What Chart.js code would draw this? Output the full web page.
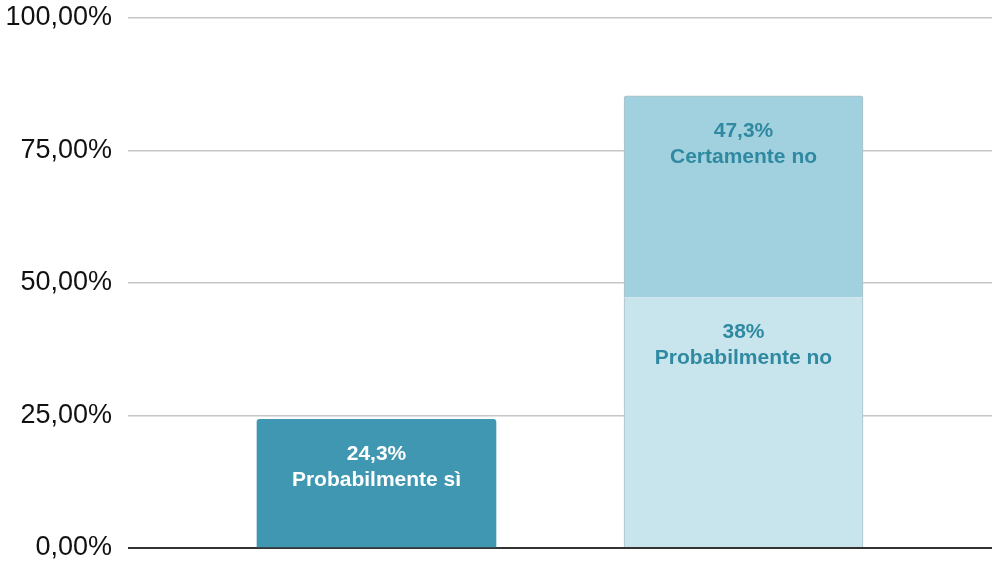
<!DOCTYPE html>
<html>
<head>
<meta charset="utf-8">
<script src="https://cdn.jsdelivr.net/npm/chart.js@4"></script>
<style>
  html, body { margin: 0; padding: 0; background: #fff; }
  #wrap { width: 993px; height: 563px; }
</style>
</head>
<body>
<div id="wrap"><canvas id="chart"></canvas></div>
<script>
// bar positions on the x axis (1 = first bar, 2 = second bar)
const positions = [1, 2];
// segment heights as drawn in the picture (percent)
const siValues = [24.3, null];
const probNoValues = [null, 47.3];
const certNoValues = [null, 38];
// label texts printed inside the segments
const siLabels = ["24,3%", "Probabilmente sì"];
const probNoLabels = ["38%", "Probabilmente no"];
const certNoLabels = ["47,3%", "Certamente no"];
const yTicks = [0, 25, 50, 75, 100];

const toPoints = vals => positions.map((x, i) => ({ x: x, y: vals[i] })).filter(p => p.y !== null);

const segmentLabels = {
  id: "segmentLabels",
  afterDatasetsDraw(chart) {
    const ctx = chart.ctx;
    chart.data.datasets.forEach((ds, di) => {
      const meta = chart.getDatasetMeta(di);
      meta.data.forEach(bar => {
        ctx.save();
        ctx.font = "bold 21px 'Liberation Sans', Arial, sans-serif";
        ctx.fillStyle = ds.labelColor;
        ctx.textAlign = "center";
        ctx.textBaseline = "middle";
        ctx.fillText(ds.texts[0], bar.x, bar.y + 35);
        ctx.fillText(ds.texts[1], bar.x, bar.y + 61);
        ctx.restore();
      });
    });
  }
};

new Chart(document.getElementById("chart"), {
  type: "bar",
  data: {
    datasets: [
      {
        label: "Probabilmente sì",
        data: toPoints(siValues),
        texts: siLabels,
        labelColor: "#ffffff",
        backgroundColor: "#4097b1",
        borderRadius: { topLeft: 3, topRight: 3 },
        borderSkipped: "bottom",
        barThickness: 239
      },
      {
        label: "Probabilmente no",
        data: toPoints(probNoValues),
        texts: probNoLabels,
        labelColor: "#2f8aa1",
        backgroundColor: "#c8e4ec",
        borderColor: "#adbfc5",
        borderWidth: { left: 1, right: 1, top: 0, bottom: 0 },
        barThickness: 239
      },
      {
        label: "Certamente no",
        data: toPoints(certNoValues),
        texts: certNoLabels,
        labelColor: "#2f8aa1",
        backgroundColor: "#a1d0de",
        borderColor: "#adbfc5",
        borderWidth: { left: 1, right: 1, top: 1, bottom: 0 },
        borderRadius: { topLeft: 3, topRight: 3 },
        borderSkipped: "bottom",
        barThickness: 239
      }
    ]
  },
  options: {
    responsive: true,
    maintainAspectRatio: false,
    animation: false,
    layout: { padding: { top: 18, bottom: 15, right: 1, left: 0 } },
    plugins: { legend: { display: false }, tooltip: { enabled: false } },
    scales: {
      x: {
        type: "linear",
        stacked: true,
        offset: false,
        min: 0.323,
        max: 2.677,
        display: false
      },
      y: {
        stacked: true,
        min: 0,
        max: 100,
        afterFit: s => { s.width = 128; s.paddingTop = 0; s.paddingBottom = 0; },
        afterBuildTicks: s => { s.ticks = yTicks.map(v => ({ value: v })); },
        border: { display: false },
        grid: {
          drawTicks: false,
          color: c => (c.tick && c.tick.value === 0 ? "#333333" : "#c6c6c6"),
          lineWidth: c => (c.tick && c.tick.value === 0 ? 2 : 1.5)
        },
        ticks: {
          padding: 16,
          color: "#111111",
          font: { family: "'Liberation Sans', Arial, sans-serif", size: 27 },
          callback: v => v.toFixed(2).replace(".", ",") + "%"
        }
      }
    }
  },
  plugins: [segmentLabels]
});
</script>
</body>
</html>
